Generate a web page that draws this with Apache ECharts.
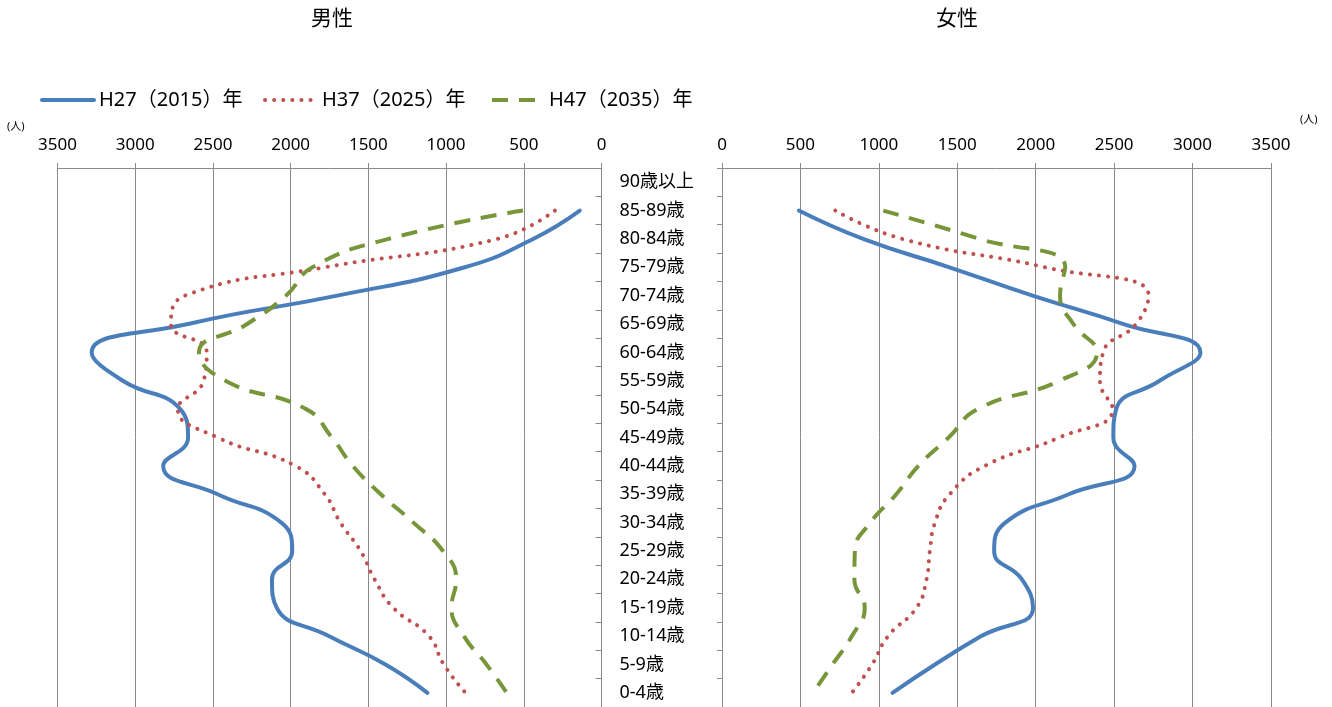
<!DOCTYPE html>
<html>
<head>
<meta charset="utf-8">
<script src="https://cdn.jsdelivr.net/npm/echarts@6/dist/echarts.min.js"></script>
<style>
  html, body { margin: 0; padding: 0; background: #fff; }
  #chart { width: 1332px; height: 707px; }
</style>
</head>
<body>
<div id="chart"></div>
<script>
// Age groups, listed from the oldest (top) to the youngest (bottom)
const ageGroups = ['90歳以上', '85-89歳', '80-84歳', '75-79歳', '70-74歳', '65-69歳', '60-64歳',
  '55-59歳', '50-54歳', '45-49歳', '40-44歳', '35-39歳', '30-34歳', '25-29歳', '20-24歳',
  '15-19歳', '10-14歳', '5-9歳', '0-4歳'];

const yearNames = ['H27（2015）年', 'H37（2025）年', 'H47（2035）年'];
const panelTitles = ['男性', '女性'];
const unitLabel = '(人)';

// Population (persons), same order as ageGroups
const male2015 = [null, 140, 440, 880, 1700, 2660, 3280, 3080, 2710, 2660, 2820, 2470, 2060, 1990, 2120, 2090, 1755, 1390, 1120];
const male2025 = [null, 300, 670, 1780, 2680, 2770, 2540, 2560, 2726, 2470, 1970, 1780, 1680, 1550, 1460, 1340, 1110, 1015, 875];
const male2035 = [null, 505, 1370, 1860, 2030, 2280, 2590, 2420, 1900, 1735, 1600, 1420, 1210, 1020, 935, 965, 885, 740, 610];

const female2015 = [null, 490, 900, 1450, 1980, 2560, 3050, 2790, 2513, 2495, 2630, 2210, 1806, 1735, 1912, 1983, 1653, 1358, 1087];
const female2025 = [null, 722, 1150, 2060, 2720, 2640, 2430, 2410, 2490, 2150, 1676, 1452, 1358, 1325, 1304, 1240, 1059, 957, 828];
const female2035 = [null, 1028, 1641, 2188, 2155, 2240, 2390, 2150, 1630, 1445, 1252, 1111, 946, 847, 844, 910, 828, 705, 580];

const FONT = '"Noto Sans", "Noto Sans CJK JP", sans-serif';
const AXIS_GRAY = '#8a8a8a';

const lineStyles = [
  { color: '#4a7ebb', width: 4, type: 'solid', cap: 'round', join: 'round' },
  { color: '#c0504d', width: 4, type: [0.1, 9], cap: 'round', join: 'round' },
  { color: '#77963a', width: 4, type: [16, 11], cap: 'butt', join: 'round' }
];

function makeSeries(values, idx, axisIdx) {
  return {
    name: yearNames[idx],
    type: 'line',
    xAxisIndex: axisIdx,
    yAxisIndex: axisIdx,
    data: values,
    smooth: 0.5,
    symbol: 'none',
    connectNulls: false,
    lineStyle: lineStyles[idx],
    itemStyle: { color: lineStyles[idx].color },
    z: 3 + idx
  };
}

function valueAxis(gridIdx, inverse) {
  return {
    type: 'value',
    gridIndex: gridIdx,
    position: 'top',
    inverse: inverse,
    min: 0,
    max: 3500,
    interval: 500,
    axisLine: { show: true, lineStyle: { color: AXIS_GRAY, width: 1 } },
    axisTick: { show: true, inside: false, length: 5, lineStyle: { color: AXIS_GRAY } },
    axisLabel: { color: '#000', fontSize: 17, fontFamily: FONT, margin: 14, formatter: v => String(v) },
    splitLine: { show: true, showMinLine: true, showMaxLine: true, lineStyle: { color: AXIS_GRAY, width: 1 } }
  };
}

const chart = echarts.init(document.getElementById('chart'), null, { renderer: 'canvas' });

const legendLefts = [40, 263, 490];

chart.setOption({
  animation: false,
  backgroundColor: '#fff',
  grid: [
    { left: 57.5, right: 730.5, top: 168, bottom: -1 },
    { left: 722, right: 61, top: 168, bottom: -1 }
  ],
  legend: yearNames.map((name, i) => ({
    data: [name],
    left: legendLefts[i],
    top: 90,
    padding: 0,
    itemWidth: 52,
    itemHeight: 20,
    itemGap: 0,
    selectedMode: false,
    itemStyle: { opacity: 0 },
    lineStyle: {
      color: lineStyles[i].color,
      width: lineStyles[i].width,
      type: lineStyles[i].type,
      cap: lineStyles[i].cap
    },
    textStyle: { color: '#000', fontSize: 20, fontFamily: FONT }
  })),
  xAxis: [valueAxis(0, true), valueAxis(1, false)],
  yAxis: [
    {
      type: 'category',
      gridIndex: 0,
      position: 'right',
      inverse: true,
      data: ageGroups,
      boundaryGap: true,
      axisLine: { show: true, lineStyle: { color: AXIS_GRAY, width: 1 } },
      axisTick: { show: true, inside: true, length: 6, lineStyle: { color: AXIS_GRAY } },
      axisLabel: { show: true, align: 'left', margin: 18, color: '#000', fontSize: 18, fontFamily: FONT, interval: 0 },
      splitLine: { show: false }
    },
    {
      type: 'category',
      gridIndex: 1,
      position: 'left',
      inverse: true,
      data: ageGroups,
      boundaryGap: true,
      axisLine: { show: true, lineStyle: { color: AXIS_GRAY, width: 1 } },
      axisTick: { show: true, inside: false, length: 5, lineStyle: { color: AXIS_GRAY } },
      axisLabel: { show: false },
      splitLine: { show: false }
    }
  ],
  graphic: [
    { type: 'text', left: 311, top: 9, style: { text: panelTitles[0], fontSize: 21, fontFamily: FONT, fill: '#000' } },
    { type: 'text', left: 936, top: 9, style: { text: panelTitles[1], fontSize: 21, fontFamily: FONT, fill: '#000' } },
    { type: 'text', left: 7, top: 121, style: { text: unitLabel, fontSize: 11, fontFamily: FONT, fill: '#000' } },
    { type: 'text', left: 1300, top: 114, style: { text: unitLabel, fontSize: 11, fontFamily: FONT, fill: '#000' } }
  ],
  series: [
    makeSeries(male2015, 0, 0),
    makeSeries(male2025, 1, 0),
    makeSeries(male2035, 2, 0),
    makeSeries(female2015, 0, 1),
    makeSeries(female2025, 1, 1),
    makeSeries(female2035, 2, 1)
  ]
});
</script>
</body>
</html>
